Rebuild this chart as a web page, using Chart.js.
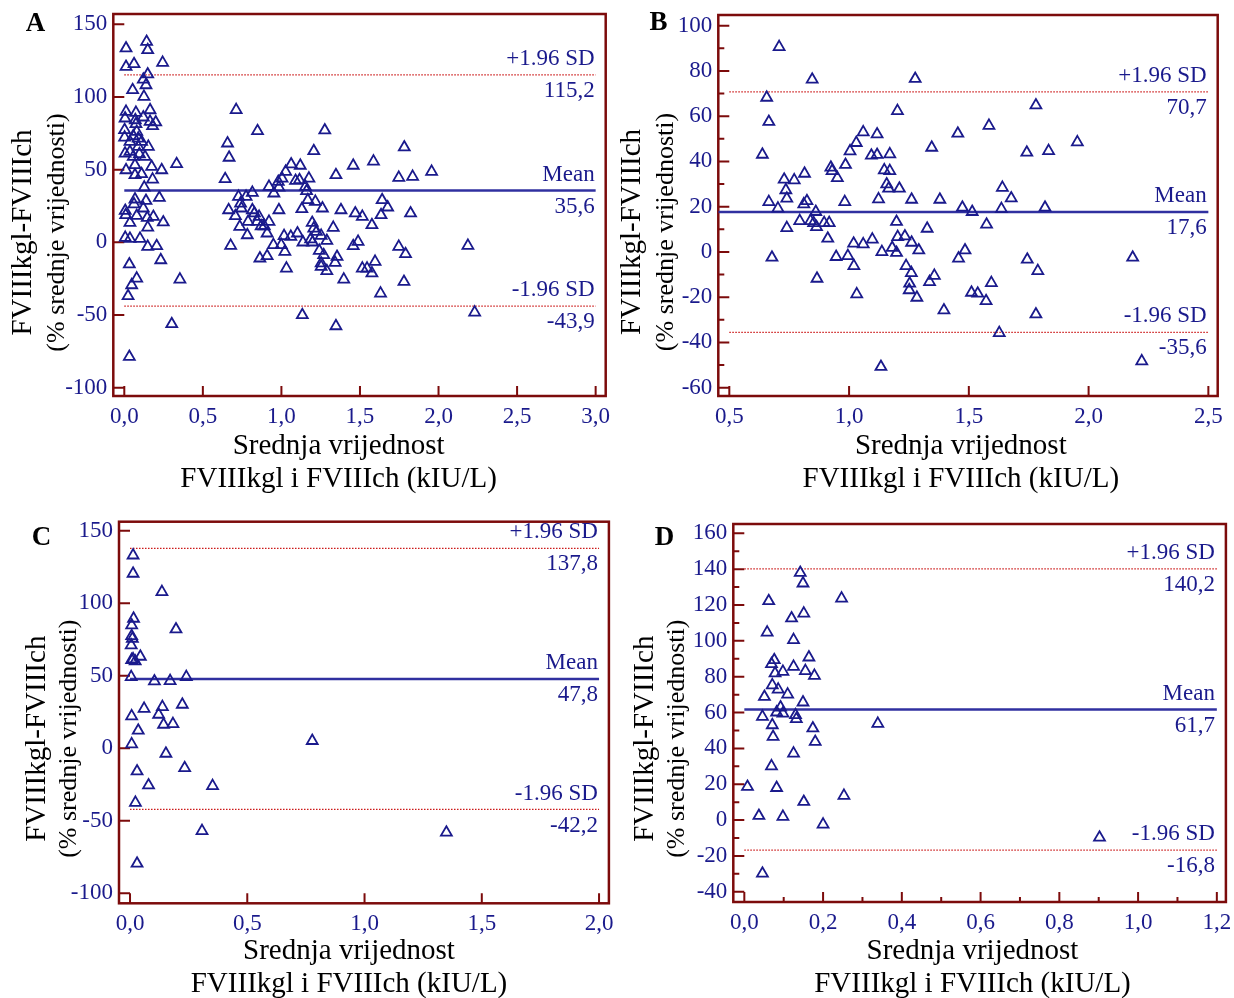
<!DOCTYPE html>
<html lang="hr">
<head>
    <meta charset="UTF-8">
    <title>FVIIIkgl vs FVIIIch - Bland-Altman</title>
    <script src="https://cdn.jsdelivr.net/npm/chart.js"></script>
    <style>
        body {
            margin: 0;
            background: #ffffff;
        }
        .wrap {
            position: relative;
            width: 1234px;
            height: 998px;
        }
        canvas {
            position: absolute;
        }
    </style>
</head>
<body>
    <div class="wrap">
        <canvas id="chartA" width="617" height="500" style="left:0;top:0"></canvas>
        <canvas id="chartB" width="617" height="500" style="left:617px;top:0"></canvas>
        <canvas id="chartC" width="617" height="498" style="left:0;top:500px"></canvas>
        <canvas id="chartD" width="617" height="498" style="left:617px;top:500px"></canvas>
    </div>
    <script>
        // Text shared by all four panels
        const xTitle = ['Srednja vrijednost', 'FVIIIkgl i FVIIIch (kIU/L)'];
        const yTitle = ['FVIIIkgl-FVIIIch', '(% srednje vrijednosti)'];
        const statNames = ['+1.96 SD', 'Mean', '-1.96 SD'];

        // Panel A
        const aX = [0.011, 0.142, 0.149, 0.011, 0.062, 0.244, 0.149, 0.121, 0.138, 0.053, 0.125, 0.011, 0.074, 0.164, 0.005, 0.121, 0.07, 0.164, 0.2, 0.18,
            0.074, 0.002, 0.002, 0.079, 0.057, 0.089, 0.11, 0.036, 0.153, 0.089, 0.005, 0.036, 0.096, 0.132, 0.057, 0.068, 0.174, 0.011, 0.238, 0.333,
            0.11, 0.068, 0.18, 0.127, 0.068, 0.138, 0.223, 0.062, 0.006, 0.121, 0.009, 0.079, 0.146, 0.185, 0.036, 0.248, 0.149, 0.006, 0.036, 0.1,
            0.149, 0.206, 0.232, 0.032, 0.079, 0.047, 0.024, 0.354, 0.302, 0.032,
            0.712, 0.848, 1.276, 0.657, 0.667, 1.782, 1.206, 0.642, 1.062, 1.12, 1.347, 1.457, 1.586, 1.956, 1.747, 1.835, 1.027, 1.004, 1.09, 1.115,
            1.175, 0.921, 0.952, 0.984, 0.98, 1.153, 1.16, 0.727, 0.775, 0.815, 0.74, 1.168, 1.216, 1.641, 0.664, 0.745, 0.815, 0.828, 0.984, 1.13,
            1.261, 1.379, 1.47, 1.515, 1.676, 1.634, 1.822, 0.707, 0.858, 0.788, 0.846, 0.921, 0.871, 0.735, 0.891, 0.909, 0.783, 1.196, 1.206, 1.33,
            1.576, 1.102, 1.223, 1.06, 1.017, 1.186, 1.253, 1.289, 1.137, 0.949, 0.999, 1.022, 1.198, 1.241, 1.269, 0.909, 0.863, 1.354, 1.342, 1.457,
            1.488, 1.747, 1.79, 2.187, 1.032, 1.253, 1.253, 1.289, 1.515, 1.545, 1.576, 1.596, 1.397, 1.78, 1.631, 1.133, 1.347, 2.23, 0.677];
        const aY = [133.5, 138, 132.3, 120.8, 122.7, 123.6, 115.6, 112, 108.2, 104.8, 100.2, 89.9, 89.2, 91, 85.3, 86, 84.1, 83, 82.6, 80,
            81.4, 77.3, 72.2, 76.1, 73.1, 71.5, 69.2, 69.2, 65.8, 65.8, 61.2, 62.3, 60.7, 58.9, 58.9, 53.2, 52, 49.7, 49.7, 53.9,
            47, 46.3, 43.3, 37.8, 29.6, 28.6, 30.7, 26.3, 21.7, 23.4, 18.8, 18.3, 16.9, 17.6, 13.5, 13.8, 10.3, 3.2, 2.5, 2.5,
            -3, -2.5, -12.2, -15.1, -24.8, -29.4, -36.9, -25.5, -56.2, -78.7,
            91.1, 76.6, 77.1, 68.1, 58.3, 65.4, 62.8, 43.6, 53.7, 52.8, 46.3, 52.8, 55.7, 48.6, 44.5, 45.2, 48.6, 44, 42.4, 42.9,
            44, 38.3, 33.7, 37.8, 41.7, 38.3, 35.3, 31.4, 31.4, 34.2, 26.8, 29.1, 28, 29.1, 22.2, 23.4, 22.2, 20, 22.2, 22.9,
            23.4, 22.2, 20, 17.7, 24.1, 18.8, 20, 18.1, 17.7, 14.2, 14.2, 14.2, 11.2, 10.8, 11.2, 6.2, 5, 13.5, 9.6, 10.1,
            11.9, 6.2, 7.3, 3.9, 4.4, 2.1, 4.6, 1.1, 0, -1.8, -1.8, -6.4, 0, -5.7, -8.7, -9.4, -11, -9.9, -14, -2.5,
            0.5, -3, -8, -2.3, -17.9, -14.4, -16.7, -19.7, -17.9, -17.9, -21.3, -13.3, -25.5, -27.1, -35.1, -50, -57.6, -48.2, -2.3];
        const aStats = [115.2, 35.6, -43.9];
        const aXTicks = [0, 0.5, 1, 1.5, 2, 2.5, 3];
        const aYTicks = [-100, -50, 0, 50, 100, 150];

        // Panel B
        const bX = [0.708, 0.846, 1.276, 0.656, 0.665, 0.638, 1.78, 1.202, 1.584, 1.059, 1.117, 1.454, 1.953, 1.03, 1.004, 1.345, 1.742, 1.833, 1.093, 1.117,
            1.17, 0.924, 0.985, 0.929, 0.951, 0.814, 0.729, 0.771, 1.147, 1.17, 1.157, 1.165, 1.21, 1.64, 0.736, 0.74, 1.123, 1.261, 1.379, 1.677,
            0.665, 0.982, 0.811, 0.824, 1.473, 1.514, 1.636, 1.818, 0.703, 0.861, 0.794, 0.839, 0.852, 0.896, 0.917, 0.864, 0.74, 1.198, 1.574, 1.326,
            0.911, 1.019, 1.059, 1.097, 1.203, 1.233, 1.261, 1.291, 1.18, 1.137, 1.198, 1.484, 1.457, 0.678, 0.946, 0.995, 1.02, 1.238, 1.26, 1.356,
            1.253, 1.336, 1.251, 1.283, 0.866, 1.032, 1.594, 1.511, 1.537, 1.572, 1.744, 1.788, 2.184, 1.396, 1.78, 1.627, 1.133, 2.222];
        const bY = [90.6, 76.2, 76.5, 68.2, 57.5, 43, 64.8, 62.3, 55.8, 52.9, 52, 52.3, 48.5, 48.2, 44.5, 46.1, 43.9, 44.6, 42.6, 42.9,
            43.2, 37.3, 38.5, 35.8, 32.7, 34.6, 32, 31.7, 36.1, 35.8, 29.9, 28, 28, 28.4, 27.3, 23.6, 23.3, 23.1, 23.1, 23.7,
            22.1, 22.1, 21.1, 22.5, 19.6, 17.7, 19, 19.6, 19.2, 17.7, 13.7, 13.7, 12.8, 12.8, 12.8, 11, 10.6, 13.3, 12.1, 10.3,
            5.9, 3.7, 3.4, 5.5, 6.6, 6.9, 4.1, 0.7, 1.8, 0, -0.4, 0.7, -2.9, -2.5, -2.2, -1.8, -6.2, -6.2, -9.3, -10.5,
            -14, -13.3, -16.9, -20.2, -11.8, -18.7, -13.7, -18, -18.4, -21.7, -3.4, -8.4, -2.5, -25.8, -27.6, -35.8, -50.8, -48.3];
        const bStats = [70.7, 17.6, -35.6];
        const bXTicks = [0.5, 1, 1.5, 2, 2.5];
        const bYTicks = [-60, -40, -20, 0, 20, 40, 60, 80, 100];
        const bYMinor = [-50, -30, -10, 10, 30, 50, 70, 90];

        // Panel C
        const cX = [0.013, 0.013, 0.136, 0.015, 0.007, 0.196, 0.007, 0.01, 0.005, 0.044, 0.007, 0.022, 0.013, 0.005, 0.104, 0.171, 0.24, 0.223,
            0.06, 0.138, 0.122, 0.007, 0.143, 0.183, 0.035, 0.007, 0.777, 0.153, 0.03, 0.233, 0.079, 0.352, 0.023, 0.307, 1.349, 0.03];
        const cY = [133, 120.4, 107.8, 89.4, 84.8, 82, 77.4, 75.6, 71, 63.2, 60.9, 60, 61.4, 49.2, 46.2, 46.4, 49.2, 30.1,
            27.3, 28.5, 23.2, 22.1, 16.3, 16.8, 12.2, 2.8, 5.1, -3.7, -15.9, -13.6, -25.5, -26, -37.5, -57, -58.1, -79.5];
        const cStats = [137.8, 47.8, -42.2];
        const cXTicks = [0, 0.5, 1, 1.5, 2];
        const cYTicks = [-100, -50, 0, 50, 100, 150];

        // Panel D
        const dX = [0.142, 0.149, 0.247, 0.062, 0.151, 0.12, 0.058, 0.125, 0.164, 0.076, 0.069, 0.125, 0.155, 0.178, 0.098, 0.078, 0.071, 0.086,
            0.11, 0.051, 0.149, 0.092, 0.082, 0.098, 0.046, 0.13, 0.132, 0.339, 0.071, 0.174, 0.073, 0.18, 0.125, 0.069, 0.008, 0.082, 0.253,
            0.151, 0.037, 0.098, 0.2, 0.902, 0.046];
        const dY = [138, 132.1, 123.7, 122.2, 115.3, 112.6, 104.7, 100.5, 90.8, 89.3, 87.1, 85.6, 83.2, 80.6, 82.8, 81.9, 75.3, 72.9,
            70.1, 68.8, 65.7, 62.9, 60.1, 59.5, 57.7, 58.6, 56.4, 53.8, 53, 51.2, 46.5, 43.7, 37.2, 30.1, 18.6, 18, 13.6,
            10.2, 2.4, 1.9, -2.4, -9.7, -29.8];
        const dStats = [140.2, 61.7, -16.8];
        const dXTicks = [0, 0.2, 0.4, 0.6, 0.8, 1, 1.2];
        const dXMinor = [0.1, 0.3, 0.5, 0.7, 0.9, 1.1];
        const dYTicks = [-40, -20, 0, 20, 40, 60, 80, 100, 120, 140, 160];
        const dYMinor = [-30, -10, 10, 30, 50, 70, 90, 110, 130, 150];

        const serif = '"Liberation Serif", "Times New Roman", Times, serif';
        const navy = '#1a1a8c';
        const maroon = '#7c0b0b';

        function comma(v, d) {
            return v.toFixed(d).replace('.', ',');
        }

        function makePanel(id, p) {
            // frame, inward tick marks, SD labels and titles
            const decor = {
                id: 'decor',
                beforeDatasetsDraw(chart) {
                    const { ctx, chartArea: a, scales: { x, y } } = chart;
                    ctx.save();
                    ctx.strokeStyle = maroon;
                    ctx.lineWidth = 2;
                    ctx.beginPath();
                    p.yTicks.forEach(v => { const py = y.getPixelForValue(v); ctx.moveTo(a.left, py); ctx.lineTo(a.left + 11, py); });
                    (p.yMinor || []).forEach(v => { const py = y.getPixelForValue(v); ctx.moveTo(a.left, py); ctx.lineTo(a.left + 6, py); });
                    p.xTicks.forEach(v => { const px = x.getPixelForValue(v); ctx.moveTo(px, a.bottom); ctx.lineTo(px, a.bottom - 10); });
                    (p.xMinor || []).forEach(v => { const px = x.getPixelForValue(v); ctx.moveTo(px, a.bottom); ctx.lineTo(px, a.bottom - 5); });
                    ctx.stroke();
                    ctx.lineWidth = 2.5;
                    ctx.strokeRect(a.left, a.top, a.right - a.left, a.bottom - a.top);
                    ctx.restore();
                },
                afterDraw(chart) {
                    const { ctx, chartArea: a, scales: { y } } = chart;
                    ctx.save();
                    ctx.fillStyle = navy;
                    ctx.font = '23px ' + serif;
                    ctx.textAlign = 'right';
                    ctx.textBaseline = 'middle';
                    p.stats.forEach((v, i) => {
                        const py = y.getPixelForValue(v);
                        ctx.fillText(statNames[i], a.right - 11, py - 16);
                        ctx.fillText(comma(v, 1), a.right - 11, py + 16);
                    });

                    ctx.fillStyle = '#000000';
                    ctx.textAlign = 'center';
                    ctx.font = 'bold 27px ' + serif;
                    ctx.fillText(p.letter, p.pos.letter[0], p.pos.letter[1]);

                    ctx.font = '29px ' + serif;
                    ctx.fillText(xTitle[0], p.pos.xt[0], p.pos.xt[1]);
                    ctx.fillText(xTitle[1], p.pos.xt[0], p.pos.xt[2]);

                    ctx.save();
                    ctx.translate(p.pos.yt[0], p.pos.yt[2]);
                    ctx.rotate(-Math.PI / 2);
                    ctx.fillText(yTitle[0], 0, 0);
                    ctx.restore();
                    ctx.save();
                    ctx.font = '26px ' + serif;
                    ctx.translate(p.pos.yt[1], p.pos.yt[2]);
                    ctx.rotate(-Math.PI / 2);
                    ctx.fillText(yTitle[1], 0, 0);
                    ctx.restore();
                    ctx.restore();
                }
            };

            const refLine = (v, x0, x1, solid) => ({
                data: [{ x: x0, y: v }, { x: x1, y: v }],
                showLine: true,
                pointRadius: 0,
                borderColor: solid ? '#3030a0' : '#cc1a1a',
                borderWidth: solid ? 2.5 : 1.2,
                borderDash: solid ? [] : [1.5, 1.5]
            });

            return new Chart(document.getElementById(id), {
                type: 'scatter',
                data: {
                    datasets: [
                        {
                            data: p.xs.map((v, i) => ({ x: v, y: p.ys[i] })),
                            pointStyle: 'triangle',
                            pointRadius: 6.3,
                            borderWidth: 1.8,
                            borderColor: navy,
                            backgroundColor: 'rgba(0,0,0,0)'
                        },
                        refLine(p.stats[0], p.sdFrom, p.lineTo, false),
                        refLine(p.stats[1], p.meanFrom, p.lineTo, true),
                        refLine(p.stats[2], p.sdFrom, p.lineTo, false)
                    ]
                },
                options: {
                    responsive: false,
                    animation: false,
                    events: [],
                    layout: { padding: { left: 0, top: p.padTop, right: p.padRight, bottom: 0 } },
                    plugins: { legend: { display: false }, tooltip: { enabled: false } },
                    scales: {
                        x: {
                            type: 'linear',
                            min: p.xMin,
                            max: p.xMax,
                            grid: { display: false, drawTicks: false },
                            border: { display: false },
                            afterBuildTicks: s => { s.ticks = p.xTicks.map(v => ({ value: v })); },
                            afterFit: s => { s.height = p.xH; s.paddingLeft = 0; s.paddingRight = 0; },
                            ticks: {
                                autoSkip: false,
                                maxRotation: 0,
                                padding: 7,
                                color: navy,
                                font: { family: serif, size: 23 },
                                callback: v => comma(v, 1)
                            }
                        },
                        y: {
                            type: 'linear',
                            min: p.yMin,
                            max: p.yMax,
                            grid: { display: false, drawTicks: false },
                            border: { display: false },
                            afterBuildTicks: s => { s.ticks = p.yTicks.map(v => ({ value: v })); },
                            afterFit: s => { s.width = p.yW; s.paddingTop = 0; s.paddingBottom = 0; },
                            ticks: {
                                autoSkip: false,
                                padding: 6,
                                color: navy,
                                font: { family: serif, size: 23 },
                                callback: v => String(v)
                            }
                        }
                    }
                },
                plugins: [decor]
            });
        }

        makePanel('chartA', {
            letter: 'A', xs: aX, ys: aY, stats: aStats, xTicks: aXTicks, yTicks: aYTicks,
            xMin: -0.07, xMax: 3.064, yMin: -105.7, yMax: 157.1,
            sdFrom: 0, meanFrom: 0, lineTo: 3,
            padTop: 14, padRight: 11.3, yW: 113.3, xH: 104,
            pos: { letter: [35.6, 24], xt: [338.6, 446, 479], yt: [23.8, 57.4, 232.5] }
        });
        makePanel('chartB', {
            letter: 'B', xs: bX, ys: bY, stats: bStats, xTicks: bXTicks, yTicks: bYTicks, yMinor: bYMinor,
            xMin: 0.454, xMax: 2.539, yMin: -63.7, yMax: 104.7,
            sdFrom: 0.5, meanFrom: 0.454, lineTo: 2.5,
            padTop: 15, padRight: 16.3, yW: 101.3, xH: 104,
            pos: { letter: [41.6, 23.3], xt: [343.8, 446, 479], yt: [15, 48.8, 232] }
        });
        makePanel('chartC', {
            letter: 'C', xs: cX, ys: cY, stats: cStats, xTicks: cXTicks, yTicks: cYTicks,
            xMin: -0.047, xMax: 2.042, yMin: -106.9, yMax: 156.2,
            sdFrom: 0, meanFrom: 0, lineTo: 2,
            padTop: 21.7, padRight: 5.3, yW: 119, xH: 94.7,
            pos: { letter: [41.5, 38.3], xt: [349, 451.7, 484], yt: [37.6, 69.3, 238.7] }
        });
        makePanel('chartD', {
            letter: 'D', xs: dX, ys: dY, stats: dStats, xTicks: dXTicks, yTicks: dYTicks, xMinor: dXMinor, yMinor: dYMinor,
            xMin: -0.028, xMax: 1.223, yMin: -45.7, yMax: 165.2,
            sdFrom: 0, meanFrom: 0, lineTo: 1.2,
            padTop: 24, padRight: 7.3, yW: 116.3, xH: 96,
            pos: { letter: [47.5, 38.3], xt: [355.5, 451, 484], yt: [28, 60.6, 238.7] }
        });
    </script>
</body>
</html>
